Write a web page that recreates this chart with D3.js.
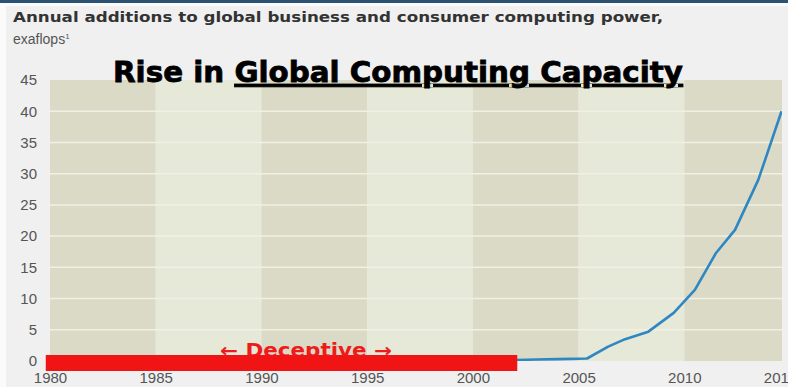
<!doctype html>
<meta charset="UTF-8">
<html>
<head>
<script src="https://d3js.org/d3.v7.min.js"></script>
<style>
  body { margin: 0; background: #fff; }
  svg { display: block; }
</style>
</head>
<body>
<script>
  width = 788
  height = 387

  // years (with fractional positions) and exaflops
  years  = [1980, 1985, 1990, 1995, 2000, 2002, 2003, 2004, 2005.4, 2006.4, 2007.2, 2008.3, 2009.5, 2010.5, 2011.5, 2012.4, 2013.5, 2014.6]
  values = [0, 0, 0, 0.05, 0.1, 0.15, 0.25, 0.3, 0.4, 2.3, 3.5, 4.7, 7.7, 11.4, 17.3, 21, 29, 40]
  yTicks = [0, 5, 10, 15, 20, 25, 30, 35, 40, 45]
  xTicks = [1980, 1985, 1990, 1995, 2000, 2005, 2010, 2015]
  bands  = [[1980, 1985], [1985, 1990], [1990, 1995], [1995, 2000], [2000, 2005], [2005, 2010], [2010, 2015]]
  deceptive = [1979.8, 2002.1]

  plotLeft = 50
  plotRight = 782
  plotTop = 80
  plotBottom = 361

  svg = d3.select('body').append('svg')
    .attr('width', width)
    .attr('height', height)

  svg.append('rect').attr('width', width).attr('height', height).attr('fill', '#fbfbfb')
  svg.append('rect').attr('x', 6).attr('y', 6).attr('width', width - 6).attr('height', height - 6).attr('fill', '#f0f0f0')
  svg.append('rect').attr('width', width).attr('height', 3).attr('fill', '#2b5272')

  x = d3.scaleLinear().domain([1980, 2015]).range([plotLeft, 790])
  y = d3.scaleLinear().domain([0, 45]).range([plotBottom, plotTop])

  svg.append('clipPath').attr('id', 'plot')
    .append('rect').attr('x', plotLeft).attr('y', plotTop).attr('width', plotRight - plotLeft).attr('height', plotBottom - plotTop)

  plot = svg.append('g').attr('clip-path', 'url(#plot)')

  plot.selectAll('.band')
    .data(bands)
    .enter()
    .append('rect')
    .attr('x', d => x(d[0]))
    .attr('width', d => x(d[1]) - x(d[0]))
    .attr('y', plotTop)
    .attr('height', plotBottom - plotTop)
    .attr('fill', (d, i) => i % 2 == 0 ? '#dbdac7' : '#e6e8d8')

  plot.selectAll('.grid')
    .data(yTicks.filter(d => d > 0 && d < 45))
    .enter()
    .append('line')
    .attr('x1', plotLeft).attr('x2', plotRight)
    .attr('y1', d => y(d)).attr('y2', d => y(d))
    .attr('stroke', '#f1f0e4')
    .attr('stroke-width', 1.5)

  line = d3.line().x((d, i) => x(years[i])).y(d => y(d))

  plot.append('path')
    .datum(values)
    .attr('d', line)
    .attr('fill', 'none')
    .attr('stroke', '#2f87c2')
    .attr('stroke-width', 2.6)
    .attr('stroke-linejoin', 'round')

  yAxis = d3.axisLeft(y).tickValues(yTicks).tickSize(0).tickPadding(0)
  svg.append('g')
    .attr('transform', 'translate(37,0)')
    .call(yAxis)
    .call(g => g.select('.domain').remove())
    .selectAll('text')
    .style('font-family', 'Liberation Sans, Arial')
    .style('font-size', '15px')
    .attr('fill', '#555')

  xAxis = d3.axisBottom(x).tickValues(xTicks).tickFormat(d3.format('d')).tickSize(0).tickPadding(0)
  svg.append('g')
    .attr('transform', 'translate(0,372)')
    .call(xAxis)
    .call(g => g.select('.domain').remove())
    .selectAll('text')
    .style('font-family', 'Liberation Sans, Arial')
    .style('font-size', '15px')
    .attr('fill', '#555')
    .attr('dx', d => d == 2015 ? -10 : 0)

  // red "deceptive" overlay
  svg.append('text')
    .text('\u2190 Deceptive \u2192')
    .attr('x', 306)
    .attr('y', 357)
    .attr('text-anchor', 'middle')
    .attr('textLength', 172)
    .attr('lengthAdjust', 'spacingAndGlyphs')
    .style('font-family', 'DejaVu Sans')
    .style('font-weight', 'bold')
    .style('font-size', '19px')
    .attr('fill', '#ee1b1b')

  svg.append('rect')
    .attr('x', x(deceptive[0]))
    .attr('width', x(deceptive[1]) - x(deceptive[0]))
    .attr('y', plotBottom - 6)
    .attr('height', 16)
    .attr('fill', '#f01414')

  svg.append('text')
    .text('Annual additions to global business and consumer computing power,')
    .attr('x', 13).attr('y', 22)
    .attr('textLength', 650)
    .attr('lengthAdjust', 'spacingAndGlyphs')
    .style('font-family', 'DejaVu Sans')
    .style('font-weight', 'bold')
    .style('font-size', '14px')
    .attr('fill', '#333')

  svg.append('text')
    .attr('x', 13).attr('y', 44)
    .style('font-family', 'Liberation Sans, Arial')
    .style('font-size', '14px')
    .attr('fill', '#555')
    .text('exaflops')
    .append('tspan').text('1').attr('dy', -5).style('font-size', '8px')

  title = svg.append('text')
    .attr('x', 113).attr('y', 82)
    .attr('textLength', 570)
    .attr('lengthAdjust', 'spacingAndGlyphs')
    .style('font-family', 'DejaVu Sans')
    .style('font-weight', 'bold')
    .style('font-size', '29px')
    .attr('fill', '#000')
    .attr('stroke', '#000')
    .attr('stroke-width', 0.8)
  title.append('tspan').text('Rise in ')
  title.append('tspan').text('Global Computing Capacity').style('text-decoration', 'underline')
</script>
</body>
</html>
